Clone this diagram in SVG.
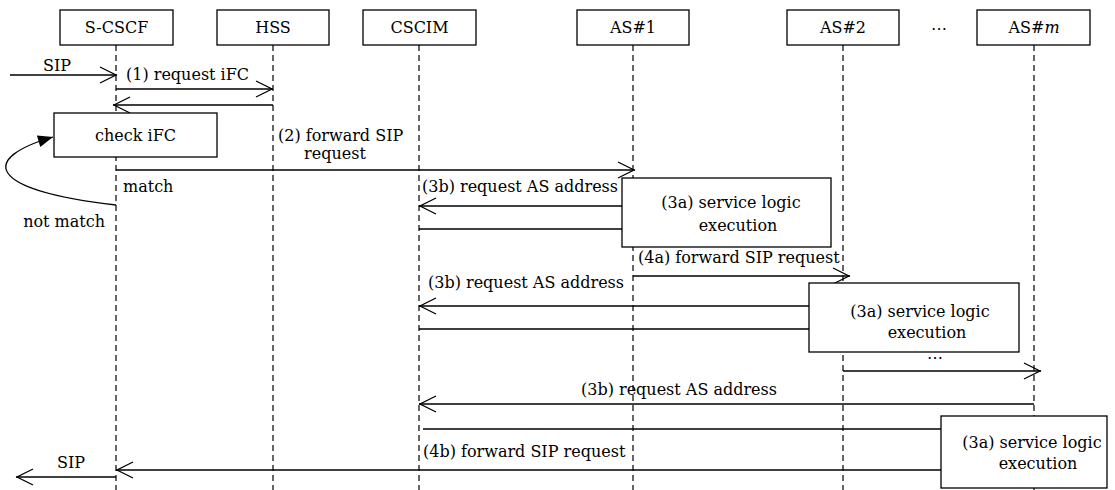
<svg xmlns="http://www.w3.org/2000/svg" width="1115" height="490" viewBox="0 0 1115 490">
<style>
text{font-family:"DejaVu Serif","Liberation Serif",serif;font-size:16px;fill:#000}
.box{fill:#fff;stroke:#000;stroke-width:1.3}
.life{stroke:#000;stroke-width:1.2;stroke-dasharray:6 4;fill:none}
.msg{stroke:#000;stroke-width:1.3;fill:none}
.arr{marker-end:url(#open)}
.mid{text-anchor:middle}
.end{text-anchor:end}
</style>
<defs>
<marker id="open" markerUnits="userSpaceOnUse" markerWidth="20" markerHeight="20" viewBox="-18 -10 20 20" refX="1" refY="0" orient="auto">
<path d="M-16,-8 L0,0 L-16,8" fill="none" stroke="#000" stroke-width="1.3"/>
</marker>
<marker id="solid" markerUnits="userSpaceOnUse" markerWidth="18" markerHeight="14" viewBox="-16 -7 18 14" refX="0" refY="0" orient="auto">
<path d="M-15,-6 L0,0 L-15,6 Z" fill="#000"/>
</marker>
</defs>

<g id="lifelines">
<line class="life" x1="116" y1="45" x2="116" y2="490"/>
<line class="life" x1="273" y1="45" x2="273" y2="490"/>
<line class="life" x1="419" y1="45" x2="419" y2="490"/>
<line class="life" x1="633" y1="45" x2="633" y2="490"/>
<line class="life" x1="843" y1="45" x2="843" y2="490"/>
<line class="life" x1="1034" y1="45" x2="1034" y2="490"/>
</g>

<g id="node-scscf"><rect class="box" x="60" y="10" width="113" height="35"/><text class="mid" x="116.5" y="33">S-CSCF</text></g>
<g id="node-hss"><rect class="box" x="217" y="10" width="112" height="35"/><text class="mid" x="273" y="33">HSS</text></g>
<g id="node-cscim"><rect class="box" x="363" y="10" width="113" height="35"/><text class="mid" x="419.5" y="33">CSCIM</text></g>
<g id="node-as1"><rect class="box" x="577" y="10" width="112" height="35"/><text class="mid" x="633" y="33">AS#1</text></g>
<g id="node-as2"><rect class="box" x="787" y="10" width="112" height="35"/><text class="mid" x="843" y="33">AS#2</text></g>
<g id="node-dots"><text class="mid" x="939" y="34">⋯</text></g>
<g id="node-asm"><rect class="box" x="977" y="10" width="113" height="35"/><text class="mid" x="1034" y="33">AS#<tspan font-style="italic">m</tspan></text></g>

<g id="connectors">
<line class="msg arr" x1="10" y1="75" x2="117" y2="75"/>
<line class="msg arr" x1="116" y1="89" x2="273" y2="89"/>
<line class="msg arr" x1="273" y1="105" x2="113" y2="105"/>
<line class="msg arr" x1="116" y1="170" x2="635" y2="170"/>
<path class="msg" d="M116,205 C-15,190 -20,158 53,137" marker-end="url(#solid)"/>
<line class="msg arr" x1="622" y1="206" x2="419" y2="206"/>
<line class="msg" x1="419" y1="229" x2="622" y2="229"/>
<line class="msg arr" x1="633" y1="276" x2="850" y2="276"/>
<line class="msg arr" x1="809" y1="306" x2="419" y2="306"/>
<line class="msg" x1="419" y1="329" x2="809" y2="329"/>
<line class="msg arr" x1="843" y1="371" x2="1041" y2="371"/>
<line class="msg arr" x1="1034" y1="404" x2="419" y2="404"/>
<line class="msg" x1="423" y1="429" x2="941" y2="429"/>
<line class="msg arr" x1="941" y1="470" x2="116" y2="470"/>
<line class="msg arr" x1="116" y1="477" x2="16" y2="477"/>
</g>

<g id="labels">
<text class="mid" x="57" y="71">SIP</text>
<text x="126" y="80">(1) request iFC</text>
<text x="278" y="141">(2) forward SIP</text>
<text class="mid" x="335" y="159">request</text>
<text x="123" y="192">match</text>
<text class="end" x="105" y="227">not match</text>
<text x="422" y="192">(3b) request AS address</text>
<text x="638" y="263">(4a) forward SIP request</text>
<text x="428" y="288">(3b) request AS address</text>
<text class="mid" x="935" y="363">⋯</text>
<text class="end" x="777" y="395">(3b) request AS address</text>
<text x="423" y="457">(4b) forward SIP request</text>
<text class="mid" x="71" y="468">SIP</text>
</g>

<g id="node-check"><rect class="box" x="54" y="113" width="163" height="44"/><text class="mid" x="135.5" y="141">check iFC</text></g>
<g id="node-sl1"><rect class="box" x="622" y="178" width="209" height="69"/><text class="mid" x="731" y="208">(3a) service logic</text><text class="mid" x="738" y="231">execution</text></g>
<g id="node-sl2"><rect class="box" x="809" y="283" width="210" height="69"/><text class="mid" x="920" y="317">(3a) service logic</text><text class="mid" x="927" y="338">execution</text></g>
<g id="node-sl3"><rect class="box" x="941" y="416" width="166" height="72"/><text class="mid" x="1032" y="448">(3a) service logic</text><text class="mid" x="1038" y="469">execution</text></g>
</svg>
